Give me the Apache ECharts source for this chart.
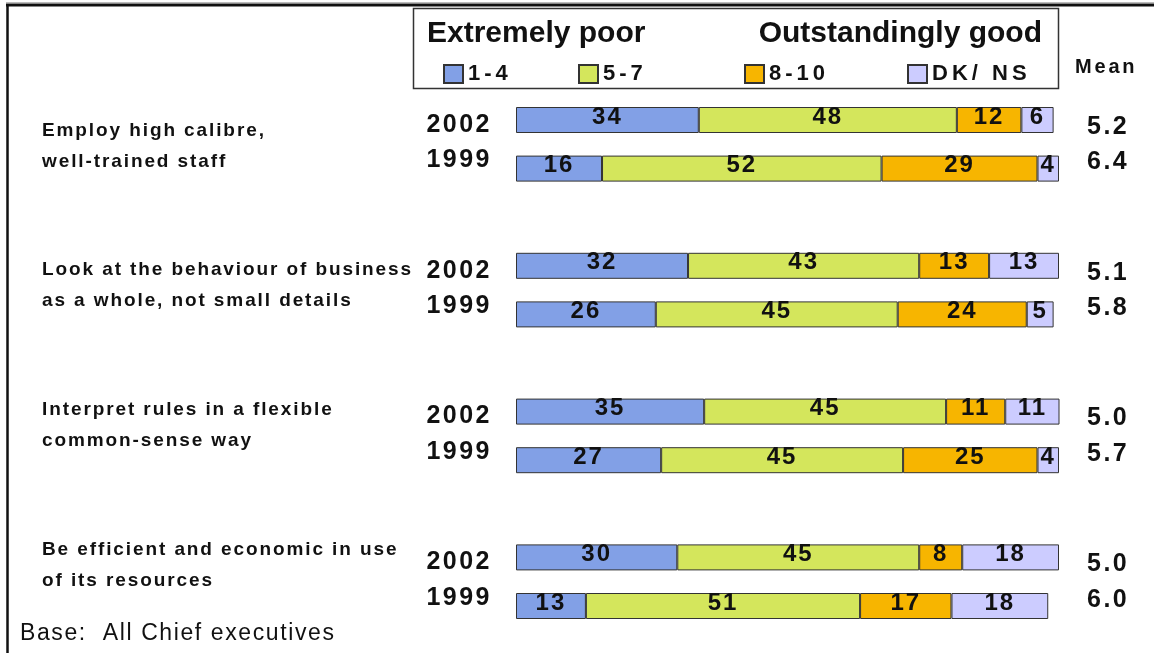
<!DOCTYPE html>
<html>
<head>
<meta charset="utf-8">
<title>Regulator performance ratings, 2002 vs 1999</title>
<script src="https://cdn.jsdelivr.net/npm/echarts@6/dist/echarts.min.js"></script>
<style>
  html, body { margin: 0; padding: 0; background: #fff; }
  #chart { width: 1154px; height: 653px; }
</style>
</head>
<body>
<div id="chart"></div>
<script>
// Statements rated by chief executives
const statements = [
  'Employ high calibre,\nwell-trained staff',
  'Look at the behaviour of business\nas a whole, not small details',
  'Interpret rules in a flexible\ncommon-sense way',
  'Be efficient and economic in use\nof its resources'
];
const years = ['2002', '1999'];

// Share of ratings (%) per statement, by survey year
const poor2002 = [34, 32, 35, 30];   // 1-4
const poor1999 = [16, 26, 27, 13];
const mid2002 = [48, 43, 45, 45];    // 5-7
const mid1999 = [52, 45, 45, 51];
const good2002 = [12, 13, 11, 8];    // 8-10
const good1999 = [29, 24, 25, 17];
const dk2002 = [6, 13, 11, 18];      // DK/ NS
const dk1999 = [4, 5, 4, 18];

// Mean score out of 10
const mean2002 = [5.2, 5.1, 5.0, 5.0];
const mean1999 = [6.4, 5.8, 5.7, 6.0];

const bandNames = ['1-4', '5-7', '8-10', 'DK/ NS'];
const bandColors = ['#82a0e6', '#d4e65c', '#f7b500', '#ccccff'];

// Wide, spaced-out lettering for the smaller bold text (keyed by font size)
const LETTER_SPACING = { '19': 1.9, '20': 2.8, '22': 4, '23': 1.6, '24': 2, '25': 2.5 };
(function () {
  const proto = CanvasRenderingContext2D.prototype;
  const spacingFor = function (font) {
    const m = /(\d+)px/.exec(font || '');
    return (m && LETTER_SPACING[m[1]]) || 0;
  };
  ['fillText', 'strokeText', 'measureText'].forEach(function (fn) {
    const orig = proto[fn];
    proto[fn] = function () {
      if ('letterSpacing' in this) this.letterSpacing = spacingFor(this.font) + 'px';
      return orig.apply(this, arguments);
    };
  });
})();

// One bar row per statement and year, with an empty row between statements
const rows = [];
statements.forEach(function (s, g) {
  years.forEach(function (y) {
    const is02 = y === '2002';
    rows.push({
      key: y + '-' + g,
      year: y,
      vals: is02
        ? [poor2002[g], mid2002[g], good2002[g], dk2002[g]]
        : [poor1999[g], mid1999[g], good1999[g], dk1999[g]],
      mean: is02 ? mean2002[g] : mean1999[g]
    });
  });
  if (g < statements.length - 1) rows.push({ key: 'gap-' + g, year: '', vals: null, mean: null });
});
const rowKeys = rows.map(function (r) { return r.key; });

const FONT = '"Liberation Sans", Arial, sans-serif';

const series = bandNames.map(function (name, b) {
  return {
    name: name,
    type: 'bar',
    stack: 'share',
    barWidth: 26,
    xAxisIndex: 0,
    yAxisIndex: 0,
    itemStyle: { color: bandColors[b], borderColor: '#333', borderWidth: 1 },
    label: {
      show: true,
      position: 'inside',
      offset: [0, -3],
      color: '#111',
      fontFamily: FONT,
      fontWeight: 'bold',
      fontSize: 24
    },
    emphasis: { disabled: true },
    data: rows.map(function (r) { return r.vals ? r.vals[b] : null; })
  };
});

const legendLefts = [443, 578, 744, 907];
const legends = bandNames.map(function (name, b) {
  return {
    data: [name],
    left: legendLefts[b],
    top: 61,
    padding: 0,
    icon: 'rect',
    itemWidth: 19,
    itemHeight: 18,
    itemGap: 0,
    selectedMode: false,
    textStyle: { color: '#111', fontFamily: FONT, fontWeight: 'bold', fontSize: 22 }
  };
});

const option = {
  animation: false,
  backgroundColor: '#fff',
  textStyle: { fontFamily: FONT },
  title: [
    { text: 'Extremely poor', left: 427, top: 19, padding: 0,
      textStyle: { fontFamily: FONT, fontWeight: 'bold', fontSize: 30, color: '#111' } },
    { text: 'Outstandingly good', right: 112, top: 19, padding: 0,
      textStyle: { fontFamily: FONT, fontWeight: 'bold', fontSize: 30, color: '#111' } },
    { text: 'Mean', left: 1075, top: 56, padding: 0,
      textStyle: { fontFamily: FONT, fontWeight: 'bold', fontSize: 20, color: '#111' } },
    { text: 'Base:  All Chief executives', left: 20, top: 621, padding: 0,
      textStyle: { fontFamily: FONT, fontWeight: 'normal', fontSize: 23, color: '#111' } }
  ],
  legend: legends,
  grid: [
    { left: 516, right: 95, top: 95.7, height: 534.6 },
    { left: 50, width: 10, top: 76, height: 558.8 }
  ],
  xAxis: [
    { type: 'value', gridIndex: 0, min: 0, max: 101, show: false },
    { type: 'value', gridIndex: 1, show: false }
  ],
  yAxis: [
    {
      type: 'category', gridIndex: 0, inverse: true, position: 'left',
      data: rowKeys,
      axisLine: { show: false }, axisTick: { show: false }, splitLine: { show: false },
      axisLabel: {
        margin: 24,
        color: '#111',
        formatter: function (v) {
          const y = v.split('-')[0];
          if (y === '2002') return '{a|2002}';
          if (y === '1999') return '{b|1999}';
          return '';
        },
        rich: {
          a: { fontFamily: FONT, fontWeight: 'bold', fontSize: 25, color: '#111', padding: [10, 0, 0, 0] },
          b: { fontFamily: FONT, fontWeight: 'bold', fontSize: 25, color: '#111', padding: [0, 0, 16, 0] }
        }
      }
    },
    {
      type: 'category', gridIndex: 0, inverse: true, position: 'right',
      data: rowKeys,
      axisLine: { show: false }, axisTick: { show: false }, splitLine: { show: false },
      axisLabel: {
        margin: 28,
        align: 'left',
        formatter: function (v, i) {
          const r = rows[i];
          if (!r || r.mean == null) return '';
          return (r.year === '2002' ? '{a|' : '{b|') + r.mean.toFixed(1) + '}';
        },
        rich: {
          a: { fontFamily: FONT, fontWeight: 'bold', fontSize: 25, color: '#111', padding: [14, 0, 0, 0] },
          b: { fontFamily: FONT, fontWeight: 'bold', fontSize: 25, color: '#111', padding: [0, 0, 12, 0] }
        }
      }
    },
    {
      type: 'category', gridIndex: 1, inverse: true, position: 'left',
      data: statements,
      axisLine: { show: false }, axisTick: { show: false }, splitLine: { show: false },
      axisLabel: {
        margin: 8,
        align: 'left',
        color: '#111',
        fontFamily: FONT,
        fontWeight: 'bold',
        fontSize: 19,
        lineHeight: 31
      }
    }
  ],
  graphic: [
    // page frame: top rule and left rule
    { type: 'line', shape: { x1: 6, y1: 2.5, x2: 1154, y2: 2.5 }, style: { stroke: '#bbb', lineWidth: 1 }, silent: true },
    { type: 'line', shape: { x1: 6, y1: 5, x2: 1154, y2: 5 }, style: { stroke: '#111', lineWidth: 3 }, silent: true },
    { type: 'line', shape: { x1: 7.5, y1: 4, x2: 7.5, y2: 653 }, style: { stroke: '#111', lineWidth: 2.5 }, silent: true },
    // box around the scale key
    { type: 'rect', shape: { x: 413.5, y: 8.5, width: 645, height: 80 },
      style: { fill: 'none', stroke: '#333', lineWidth: 1.5 }, silent: true }
  ],
  series: series
};

const chart = echarts.init(document.getElementById('chart'), null, { renderer: 'canvas' });
chart.setOption(option);
</script>
</body>
</html>
